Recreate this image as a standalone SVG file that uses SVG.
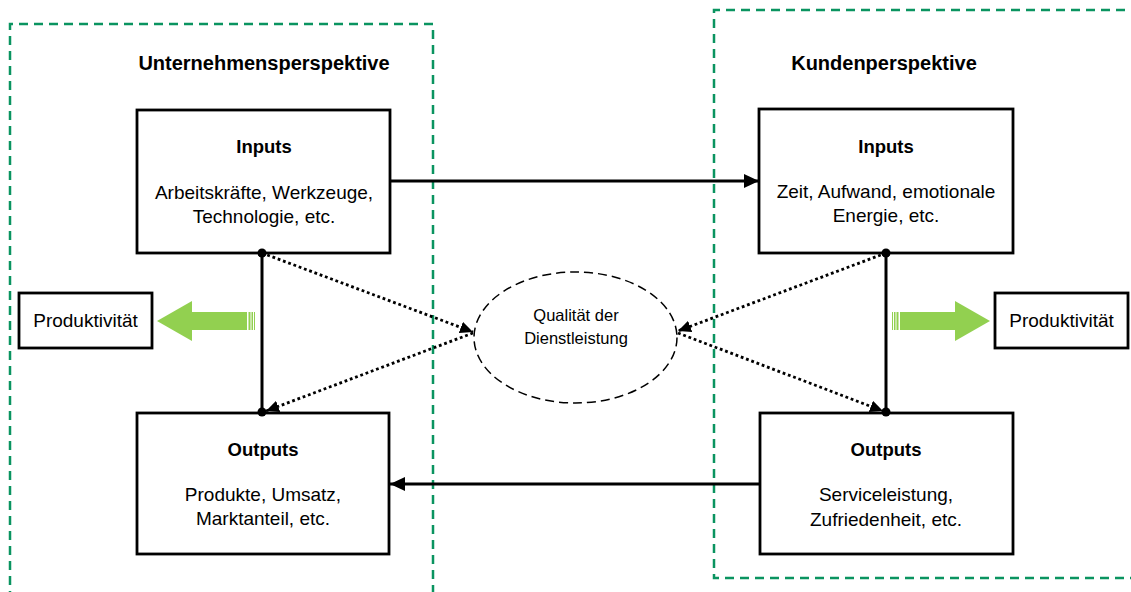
<svg xmlns="http://www.w3.org/2000/svg" width="1131" height="592" viewBox="0 0 1131 592">
<defs>
<style>
.box{fill:#fff;stroke:#000;stroke-width:2.8}
.persp{fill:none;stroke:#0a9460;stroke-width:2.5;stroke-dasharray:9 6}
.t{font-family:"Liberation Sans",Arial,sans-serif;font-size:19px;fill:#000;text-anchor:middle}
.b{font-weight:bold;font-size:18.5px}
.title{font-size:20px}
.small{font-size:16.5px}
.solid{stroke:#000;stroke-width:3;fill:none}
.dot{stroke:#000;stroke-width:2.8;fill:none;stroke-dasharray:2.8 2.8}
.green{fill:#92d050}
</style>
<marker id="ah" markerUnits="userSpaceOnUse" markerWidth="16" markerHeight="14" refX="15" refY="7" orient="auto">
<path d="M0,0 L15,7 L0,14 z" fill="#000"/>
</marker>
<marker id="ahd" markerUnits="userSpaceOnUse" markerWidth="14" markerHeight="12" refX="13" refY="6" orient="auto">
<path d="M0,0 L13,6 L0,12 z" fill="#000"/>
</marker>
</defs>
<rect width="1131" height="592" fill="#fff"/>

<g id="perspective-company">
<path class="persp" d="M10,600 V24 H433 V600"/>
<text class="t b title" x="264" y="70">Unternehmensperspektive</text>
</g>
<g id="perspective-customer">
<path class="persp" d="M1140,10 H714 V578 H1140"/>
<text class="t b title" x="884" y="70">Kundenperspektive</text>
</g>

<g id="connectors">
<line class="solid" x1="390" y1="181" x2="759" y2="181" marker-end="url(#ah)"/>
<line class="solid" x1="760" y1="484" x2="390" y2="484" marker-end="url(#ah)"/>
<line class="solid" x1="262" y1="253" x2="262" y2="412"/>
<line class="solid" x1="886" y1="253" x2="886" y2="412"/>
<line class="dot" x1="262" y1="253" x2="473" y2="332" marker-end="url(#ahd)"/>
<line class="dot" x1="473" y1="333" x2="266" y2="411" marker-end="url(#ahd)"/>
<line class="dot" x1="886" y1="253" x2="678" y2="331" marker-end="url(#ahd)"/>
<line class="dot" x1="678" y1="333" x2="883" y2="411" marker-end="url(#ahd)"/>
</g>

<g id="inputs-company">
<rect class="box" x="137" y="110" width="253" height="143"/>
<text class="t b" x="264" y="153">Inputs</text>
<text class="t" x="264" y="199">Arbeitskräfte, Werkzeuge,</text>
<text class="t" x="264" y="223">Technologie, etc.</text>
</g>
<g id="outputs-company">
<rect class="box" x="137" y="413" width="252" height="141"/>
<text class="t b" x="263" y="456">Outputs</text>
<text class="t" x="263" y="501">Produkte, Umsatz,</text>
<text class="t" x="263" y="525">Marktanteil, etc.</text>
</g>
<g id="inputs-customer">
<rect class="box" x="759" y="109" width="254" height="144"/>
<text class="t b" x="886" y="153">Inputs</text>
<text class="t" x="886" y="198">Zeit, Aufwand, emotionale</text>
<text class="t" x="886" y="222">Energie, etc.</text>
</g>
<g id="outputs-customer">
<rect class="box" x="760" y="413" width="253" height="141"/>
<text class="t b" x="886" y="456">Outputs</text>
<text class="t" x="886" y="501">Serviceleistung,</text>
<text class="t" x="886" y="526">Zufriedenheit, etc.</text>
</g>

<g id="connector-joints">
<circle cx="262" cy="253" r="4.5" fill="#000"/>
<circle cx="262" cy="412" r="4.5" fill="#000"/>
<circle cx="886" cy="253" r="4.5" fill="#000"/>
<circle cx="886" cy="412" r="4.5" fill="#000"/>
</g>

<g id="quality">
<ellipse cx="575.5" cy="337.5" rx="101.5" ry="65.5" fill="#fff" stroke="#000" stroke-width="1.5" stroke-dasharray="9 5"/>
<text class="t small" x="576" y="321">Qualität der</text>
<text class="t small" x="576" y="344">Dienstleistung</text>
</g>

<g id="productivity-company">
<rect class="box" x="19" y="293" width="133" height="55"/>
<text class="t" x="85.5" y="327">Produktivität</text>
</g>
<g id="arrow-company">
<polygon class="green" points="157,321 192,301 192,312 247,312 247,330 192,330 192,341"/>
<rect class="green" x="248.5" y="312" width="2" height="18"/>
<rect class="green" x="251.5" y="312" width="1.5" height="18"/>
<rect class="green" x="254" y="312" width="1" height="18"/>
</g>
<g id="productivity-customer">
<rect class="box" x="995" y="293" width="133" height="55"/>
<text class="t" x="1061.5" y="327">Produktivität</text>
</g>
<g id="arrow-customer">
<polygon class="green" points="990,321 955,301 955,312 900,312 900,330 955,330 955,341"/>
<rect class="green" x="896.5" y="312" width="2" height="18"/>
<rect class="green" x="894" y="312" width="1.5" height="18"/>
<rect class="green" x="892" y="312" width="1" height="18"/>
</g>
</svg>
